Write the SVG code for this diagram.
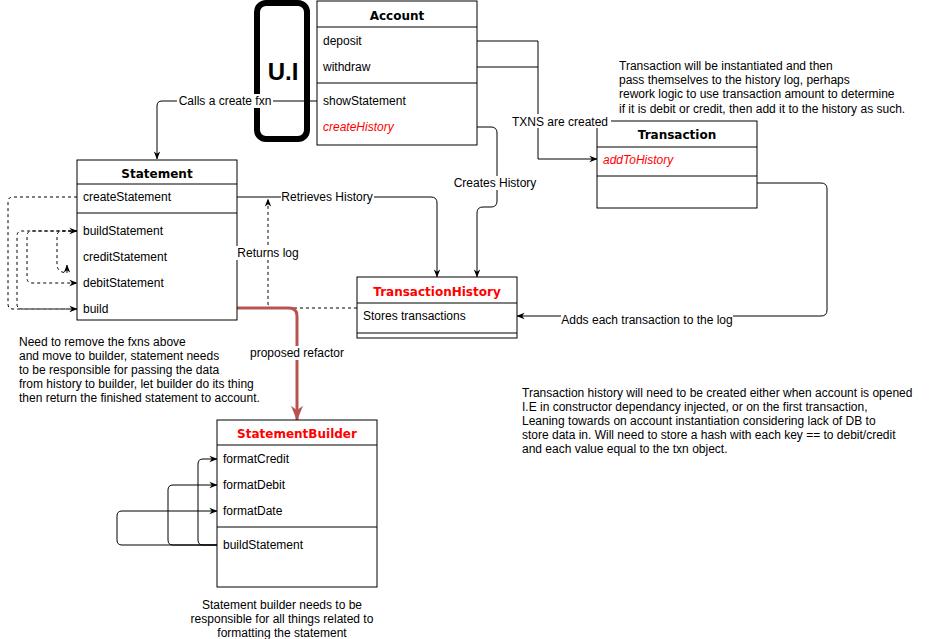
<svg xmlns="http://www.w3.org/2000/svg" width="931" height="639" viewBox="0 0 931 639">
<defs>
<style>
text{font-family:"Liberation Sans",Arial,sans-serif;font-size:12px;fill:#000}
.t{font-family:"DejaVu Sans",Verdana,sans-serif;font-weight:bold;text-anchor:middle}
.red{fill:#ff0000}
.it{font-style:italic;fill:#ff0000}
.box{fill:#fff;stroke:#000;stroke-width:1}
.ln{stroke:#000;stroke-width:1}
.c{fill:none;stroke:#000;stroke-width:1}
.d{fill:none;stroke:#000;stroke-width:1;stroke-dasharray:3 3}
.lbl{text-anchor:middle}
.bg{fill:#fff}
</style>
<marker id="a" viewBox="0 0 10 10" refX="9.5" refY="5" markerWidth="8" markerHeight="8" orient="auto" markerUnits="userSpaceOnUse"><path d="M0,1 L10,5 L0,9 L3,5 z" fill="#000"/></marker>
<marker id="ar" viewBox="0 0 10 10" refX="9.5" refY="5" markerWidth="15" markerHeight="15" orient="auto" markerUnits="userSpaceOnUse"><path d="M0,1 L10,5 L0,9 L3,5 z" fill="#b85450"/></marker>
</defs>
<rect width="931" height="639" fill="#fff"/>

<g id="ui">
<rect x="257" y="3" width="50" height="136" rx="9" fill="#fff" stroke="#000" stroke-width="6"/>
<text x="283" y="80" style="font-size:24px;font-weight:bold" text-anchor="middle">U.I</text>
</g>

<g id="connectors">
<path class="c" d="M317,101 H162 Q157,101 157,106 V159" marker-end="url(#a)"/>
<path class="c" d="M477,41 H538 V159 H597" marker-end="url(#a)"/>
<path class="c" d="M477,67 H538"/>
<path class="c" d="M477,127 H491 Q497,127 497,133 V201 Q497,207 491,207 H483 Q477,207 477,213 V277" marker-end="url(#a)"/>
<path class="c" d="M237,197 H431 Q437,197 437,203 V277" marker-end="url(#a)"/>
<path class="d" d="M357,308 H273 Q268,308 268,303 V199" marker-end="url(#a)"/>
<path class="c" d="M678,173 V178 Q678,183 684,183 H821 Q827,183 827,189 V310 Q827,316 821,316 H517" marker-end="url(#a)"/>
<path class="d" d="M77,197 H13 Q8,197 8,202 V304 Q8,309 13,309 H77" marker-end="url(#a)"/>
<path class="d" d="M77,309 H22 Q17,309 17,304 V236 Q17,231 22,231 H77" marker-end="url(#a)"/>
<path class="d" d="M77,231 H32 Q27,231 27,236 V278 Q27,283 32,283 H77" marker-end="url(#a)"/>
<path class="d" d="M77,231 H62 Q57,231 57,236 V264 Q57,270 62,272 L67,273 V265" marker-end="url(#a)"/>
<path d="M237,308 H289 Q297,308 297,316 V420" fill="none" stroke="#b85450" stroke-width="3" marker-end="url(#ar)"/>
<path class="c" d="M217,545 H203 Q198,545 198,540 V464 Q198,459 203,459 H217" marker-end="url(#a)"/>
<path class="c" d="M217,545 H173 Q168,545 168,540 V490 Q168,485 173,485 H217" marker-end="url(#a)"/>
<path class="c" d="M217,545 H122 Q117,545 117,540 V516 Q117,511 122,511 H217" marker-end="url(#a)"/>
</g>

<g id="account">
<rect class="box" x="317" y="1" width="160" height="144"/>
<line class="ln" x1="317" y1="27" x2="477" y2="27"/>
<line class="ln" x1="317" y1="83" x2="477" y2="83"/>
<text class="t" x="397" y="20">Account</text>
<text x="323" y="45">deposit</text>
<text x="323" y="71">withdraw</text>
<text x="323" y="105">showStatement</text>
<text class="it" x="323" y="131">createHistory</text>
</g>

<g id="statement">
<rect class="box" x="77" y="160" width="160" height="160"/>
<line class="ln" x1="77" y1="184" x2="237" y2="184"/>
<line class="ln" x1="77" y1="213" x2="237" y2="213"/>
<text class="t" x="157" y="178">Statement</text>
<text x="83" y="201">createStatement</text>
<text x="83" y="235">buildStatement</text>
<text x="83" y="261">creditStatement</text>
<text x="83" y="287">debitStatement</text>
<text x="83" y="313">build</text>
</g>

<g id="transaction">
<rect class="box" x="597" y="121" width="160" height="87"/>
<line class="ln" x1="597" y1="147" x2="757" y2="147"/>
<line class="ln" x1="597" y1="176" x2="757" y2="176"/>
<text class="t" x="677" y="139">Transaction</text>
<text class="it" x="603" y="164">addToHistory</text>
</g>

<g id="transactionHistory">
<rect class="box" x="357" y="277" width="160" height="61"/>
<line class="ln" x1="357" y1="303" x2="517" y2="303"/>
<line class="ln" x1="357" y1="333" x2="517" y2="333"/>
<text class="t red" x="437" y="296">TransactionHistory</text>
<text x="363" y="320">Stores transactions</text>
</g>

<g id="statementBuilder">
<rect class="box" x="217" y="420" width="160" height="167"/>
<line class="ln" x1="217" y1="445" x2="377" y2="445"/>
<line class="ln" x1="217" y1="527" x2="377" y2="527"/>
<text class="t red" x="297" y="438">StatementBuilder</text>
<text x="223" y="463">formatCredit</text>
<text x="223" y="489">formatDebit</text>
<text x="223" y="515">formatDate</text>
<text x="223" y="549">buildStatement</text>
</g>

<g id="labels">
<rect class="bg" x="177" y="94" width="96" height="14"/>
<text class="lbl" x="225" y="105">Calls a create fxn</text>
<rect class="bg" x="511" y="114" width="100" height="14"/>
<text class="lbl" x="560" y="126">TXNS are created</text>
<rect class="bg" x="452" y="176" width="86" height="14"/>
<text class="lbl" x="495" y="187">Creates History</text>
<rect class="bg" x="281" y="190" width="93" height="14"/>
<text class="lbl" x="327" y="201">Retrieves History</text>
<rect class="bg" x="236" y="246" width="64" height="14"/>
<text class="lbl" x="268" y="257">Returns log</text>
<rect class="bg" x="561" y="312" width="172" height="14"/>
<text class="lbl" x="647" y="324">Adds each transaction to the log</text>
<rect class="bg" x="248" y="346" width="98" height="14"/>
<text class="lbl" x="297" y="357">proposed refactor</text>
</g>

<g id="notes">
<text x="619" y="70">Transaction will be instantiated and then</text>
<text x="619" y="84">pass themselves to the history log, perhaps</text>
<text x="619" y="98">rework logic to use transaction amount to determine</text>
<text x="619" y="113">if it is debit or credit, then add it to the history as such.</text>
<text x="19" y="346">Need to remove the fxns above</text>
<text x="19" y="360">and move to builder, statement needs</text>
<text x="19" y="374">to be responsible for passing the data</text>
<text x="19" y="388">from history to builder, let builder do its thing</text>
<text x="19" y="402">then return the finished statement to account.</text>
<text x="522" y="397">Transaction history will need to be created either when account is opened</text>
<text x="522" y="411">I.E in constructor dependancy injected, or on the first transaction,</text>
<text x="522" y="425">Leaning towards on account instantiation considering lack of DB to</text>
<text x="522" y="439">store data in. Will need to store a hash with each key == to debit/credit</text>
<text x="522" y="453">and each value equal to the txn object.</text>
<text class="lbl" x="282" y="609">Statement builder needs to be</text>
<text class="lbl" x="282" y="623">responsible for all things related to</text>
<text class="lbl" x="282" y="637">formatting the statement</text>
</g>
</svg>
